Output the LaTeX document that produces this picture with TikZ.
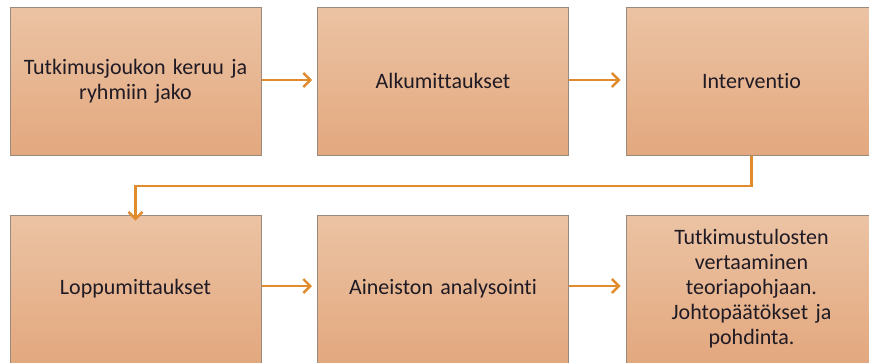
\documentclass[tikz,border=0pt]{standalone}
\usepackage{fontspec}
\setmainfont[Ligatures=NoCommon,WordSpace=0.8]{Carlito}
\usetikzlibrary{arrows.meta}
\definecolor{boxtop}{HTML}{EBC3A4}
\definecolor{boxbot}{HTML}{E3A87E}
\definecolor{boxline}{HTML}{9A8A7E}
\definecolor{arr}{HTML}{E08B2C}
\definecolor{txt}{HTML}{1F1A24}
\tikzset{
  stepbox/.style={minimum width=251pt, minimum height=148pt, inner sep=4pt,
    top color=boxtop, bottom color=boxbot, draw=boxline, line width=1pt,
    text width=235pt, align=center, font=\fontsize{22}{25}\selectfont, text=txt},
  flow/.style={draw=arr, line width=2.8pt, -{Straight Barb[length=7pt,width=14pt,line width=2.4pt]}},
}
\begin{document}
\begin{tikzpicture}[x=1pt,y=-1pt]
\useasboundingbox (0,0) rectangle (869,362);
\begin{scope}
\clip (0,0) rectangle (869,362);
\node[stepbox] (a) at (135.5,81) {Tutkimusjoukon keruu ja\\ryhmiin jako};
\node[stepbox] (b) at (443,81) {Alkumittaukset};
\node[stepbox] (c) at (751.5,81) {Interventio};
\node[stepbox] (d) at (135.5,289) {Loppumittaukset};
\node[stepbox] (e) at (443,289) {Aineiston analysointi};
\node[stepbox] (f) at (751.5,289) {Tutkimustulosten\\vertaaminen\\teoriapohjaan.\\Johtopäätökset ja\\pohdinta.};
\end{scope}
\coordinate (m1) at (751.5,186);
\coordinate (m2) at (135.5,186);
\draw[flow] ([yshift=1pt]a.east) -- ([xshift=-5pt,yshift=1pt]b.west);
\draw[flow] ([yshift=1pt]b.east) -- ([xshift=-5pt,yshift=1pt]c.west);
\draw[flow] ([yshift=3pt]d.east) -- ([xshift=-5pt,yshift=3pt]e.west);
\draw[flow] ([yshift=3pt]e.east) -- ([xshift=-5pt,yshift=3pt]f.west);
\draw[flow] (c.south) -- (m1) -- (m2) -- ([yshift=-6pt]d.north);
\end{tikzpicture}
\end{document}
